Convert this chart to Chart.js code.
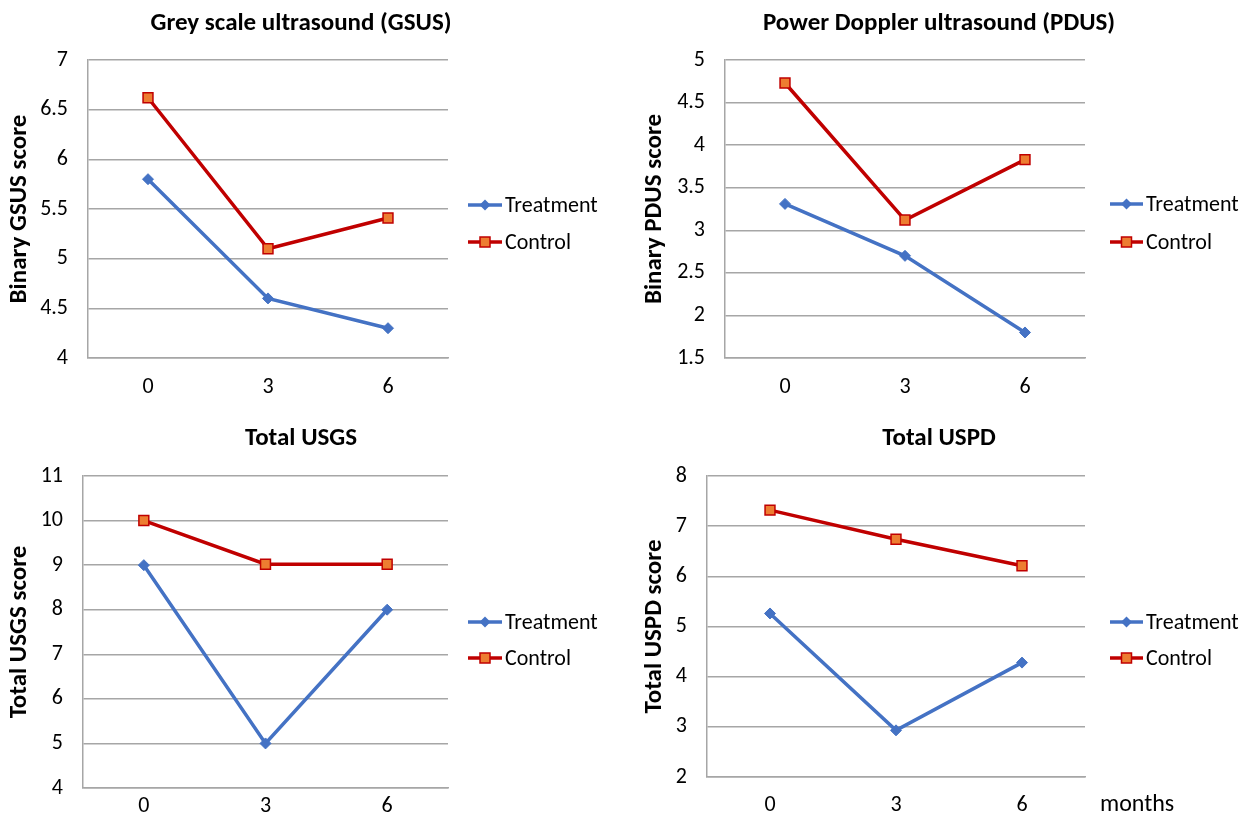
<!DOCTYPE html>
<html>
<head>
<meta charset="utf-8">
<script src="https://cdn.jsdelivr.net/npm/chart.js@4.4.1/dist/chart.umd.min.js"></script>
<style>
  html, body { margin: 0; padding: 0; background: #fff; }
  body { width: 1249px; height: 817px; position: relative; overflow: hidden; }
  canvas { position: absolute; }
</style>
</head>
<body>
<canvas id="c1" width="620" height="410" style="left:0px;top:0px;"></canvas>
<canvas id="c2" width="629" height="410" style="left:620px;top:0px;"></canvas>
<canvas id="c3" width="620" height="407" style="left:0px;top:410px;"></canvas>
<canvas id="c4" width="629" height="407" style="left:620px;top:410px;"></canvas>
<script>
// ---------- data ----------
const months = ['0', '3', '6'];
const seriesNames = ['Treatment', 'Control'];

const gsusTreatment = [5.8, 4.6, 4.3];
const gsusControl   = [6.62, 5.1, 5.41];

const pdusTreatment = [3.31, 2.7, 1.8];
const pdusControl   = [4.73, 3.12, 3.83];

const usgsTreatment = [9, 5, 8];
const usgsControl   = [10, 9.02, 9.02];

const uspdTreatment = [5.26, 2.93, 4.28];
const uspdControl   = [7.32, 6.74, 6.21];

const chartTitles = ['Grey scale ultrasound (GSUS)', 'Power Doppler ultrasound (PDUS)', 'Total USGS', 'Total USPD'];
const yAxisTitles = ['Binary GSUS score', 'Binary PDUS score', 'Total USGS score', 'Total USPD score'];
const yMin  = [4, 1.5, 4, 2];
const yMax  = [7, 5, 11, 8];
const yStep = [0.5, 0.5, 1, 1];
const xAxisNote = 'months';

// ---------- style ----------
const FONT = "Carlito, Calibri, Lato, 'Open Sans', sans-serif";
const BLUE = '#4472C4';
const RED = '#C00000';
const ORANGE = '#ED7D31';
const GRID = '#A6A6A6';

// per-panel layout (canvas-local pixels)
const layouts = [
  { pad: {top: 60, right: 172}, yW: 88,  xH: 52, xPad: 18, yTitlePad: 5,
    title: {x: 301, y: 30}, leg: {x1: 468, x2: 502, tx: 505, y: [205, 242]} },
  { pad: {top: 60, right: 164}, yW: 105, xH: 52, xPad: 18, yTitlePad: 20,
    title: {x: 319, y: 30}, leg: {x1: 490, x2: 523, tx: 526, y: [204, 242]} },
  { pad: {top: 66, right: 172}, yW: 83,  xH: 29, xPad: 7,  yTitlePad: 5,
    title: {x: 301, y: 35}, leg: {x1: 468, x2: 502, tx: 505, y: [212, 248]} },
  { pad: {top: 66, right: 164}, yW: 87,  xH: 40, xPad: 17, yTitlePad: 20,
    title: {x: 319, y: 35}, leg: {x1: 490, x2: 523, tx: 526, y: [212, 248]}, note: {x: 480, y: 395} }
];

function drawMarker(ctx, kind, x, y) {
  ctx.save();
  if (kind === 0) {
    ctx.fillStyle = BLUE;
    ctx.beginPath();
    ctx.moveTo(x, y - 5.5); ctx.lineTo(x + 5.5, y); ctx.lineTo(x, y + 5.5); ctx.lineTo(x - 5.5, y);
    ctx.closePath(); ctx.fill();
  } else {
    ctx.fillStyle = ORANGE; ctx.strokeStyle = RED; ctx.lineWidth = 1.5;
    ctx.fillRect(x - 5, y - 5, 10, 10);
    ctx.strokeRect(x - 5, y - 5, 10, 10);
  }
  ctx.restore();
}

const decorPlugin = {
  id: 'decor',
  afterDraw(chart, args, opts) {
    const L = opts.layout;
    const ctx = chart.ctx;
    ctx.save();
    // title
    ctx.fillStyle = '#000';
    ctx.font = "bold 25px " + FONT;
    ctx.textAlign = 'center';
    ctx.textBaseline = 'alphabetic';
    ctx.fillText(opts.title, L.title.x, L.title.y);
    // legend
    ctx.font = "22px " + FONT;
    ctx.textAlign = 'left';
    ctx.textBaseline = 'middle';
    seriesNames.forEach((name, i) => {
      const y = L.leg.y[i];
      ctx.strokeStyle = i === 0 ? BLUE : RED;
      ctx.lineWidth = 3.5;
      ctx.beginPath(); ctx.moveTo(L.leg.x1, y); ctx.lineTo(L.leg.x2, y); ctx.stroke();
      drawMarker(ctx, i, (L.leg.x1 + L.leg.x2) / 2, y);
      ctx.fillStyle = '#000';
      ctx.fillText(name, L.leg.tx, y + 1);
    });
    if (L.note) {
      ctx.font = "24px " + FONT;
      ctx.fillText(xAxisNote, L.note.x, L.note.y);
    }
    ctx.restore();
  }
};

function makeChart(id, idx, treat, ctrl) {
  const L = layouts[idx];
  return new Chart(document.getElementById(id), {
    type: 'line',
    data: {
      labels: months,
      datasets: [
        { label: seriesNames[0], data: treat, borderColor: BLUE, backgroundColor: BLUE,
          borderWidth: 3.5, pointStyle: 'rectRot', pointRadius: 5.5, pointBorderWidth: 1,
          pointBackgroundColor: BLUE, pointBorderColor: BLUE, tension: 0 },
        { label: seriesNames[1], data: ctrl, borderColor: RED, backgroundColor: ORANGE,
          borderWidth: 3.5, pointStyle: 'rect', pointRadius: 7, pointBorderWidth: 1.5,
          pointBackgroundColor: ORANGE, pointBorderColor: RED, tension: 0 }
      ]
    },
    options: {
      responsive: false,
      animation: false,
      devicePixelRatio: 1,
      layout: { padding: { top: L.pad.top, right: L.pad.right, bottom: 0, left: 0 } },
      plugins: {
        legend: { display: false },
        title: { display: false },
        tooltip: { enabled: false },
        decor: { layout: L, title: chartTitles[idx] }
      },
      scales: {
        x: {
          type: 'category',
          offset: true,
          grid: { display: false, drawTicks: false },
          border: { display: true, color: GRID, width: 1.5 },
          ticks: { color: '#000', font: { family: FONT, size: 22, lineHeight: 1 }, padding: L.xPad, maxRotation: 0 },
          afterFit(scale) { scale.height = L.xH; }
        },
        y: {
          min: yMin[idx], max: yMax[idx],
          grid: { color: GRID, lineWidth: 1.5, drawTicks: true, tickLength: 20, tickColor: 'rgba(0,0,0,0)' },
          border: { display: true, color: GRID, width: 1.5 },
          ticks: { stepSize: yStep[idx], color: '#000', font: { family: FONT, size: 22 }, padding: 0,
                   callback: (v) => String(Math.round(v * 100) / 100) },
          title: { display: true, text: yAxisTitles[idx], color: '#000',
                   font: { family: FONT, size: 25, weight: 'bold' }, padding: { top: L.yTitlePad, bottom: 0 } },
          afterFit(scale) { scale.width = L.yW; }
        }
      }
    },
    plugins: [decorPlugin]
  });
}

makeChart('c1', 0, gsusTreatment, gsusControl);
makeChart('c2', 1, pdusTreatment, pdusControl);
makeChart('c3', 2, usgsTreatment, usgsControl);
makeChart('c4', 3, uspdTreatment, uspdControl);
</script>
</body>
</html>
